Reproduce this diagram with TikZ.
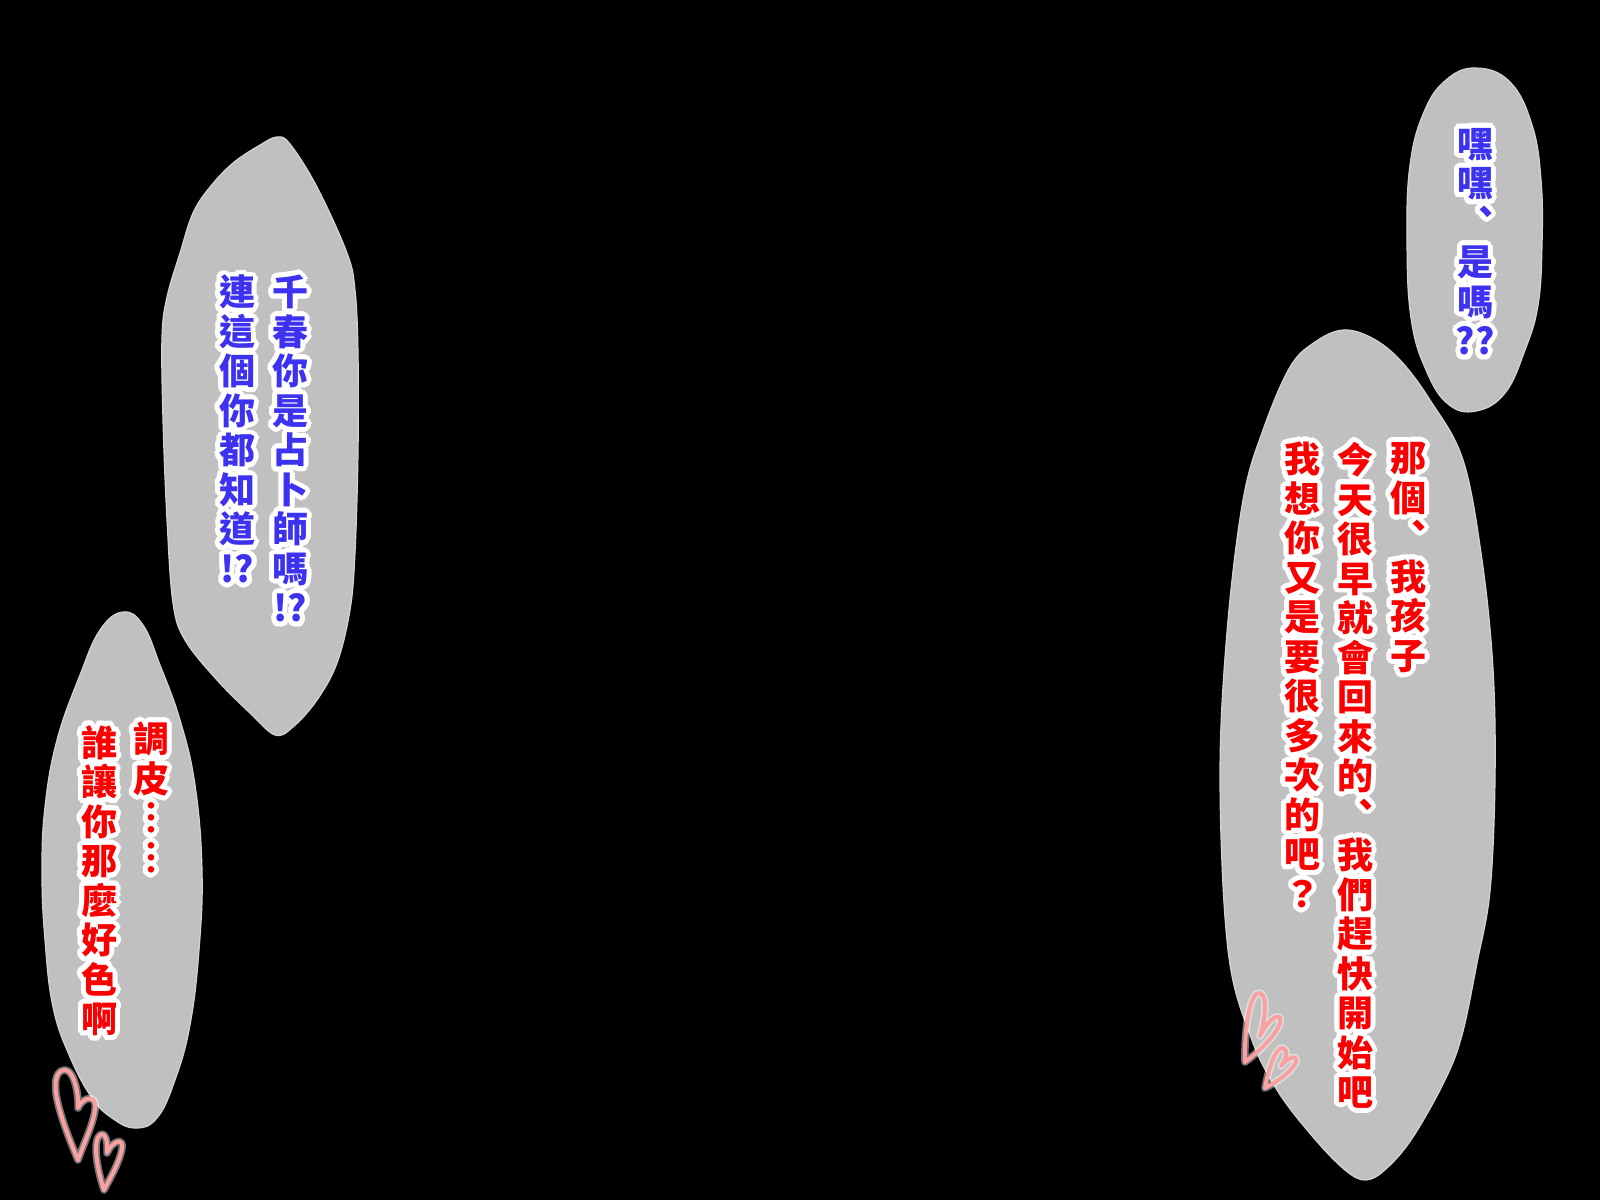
\documentclass[tikz,border=0pt]{standalone}
\usepackage{fontspec}
\newfontfamily\cjk{Noto Sans CJK TC}
\usetikzlibrary{calc}
\definecolor{bubblegray}{RGB}{192,192,192}
\definecolor{sayblue}{RGB}{60,50,240}
\definecolor{sayred}{RGB}{250,0,0}
\definecolor{heartpink}{RGB}{250,160,160}
\tikzset{
    bubble/.style = {fill=bubblegray, draw=bubblegray!70!white, line width=1.2},
    say/.style = {anchor=north, align=center, inner sep=0pt, font=\cjk\bfseries\fontsize{36}{39.5}\selectfont},
    sayb/.style = {say, text=sayblue},
    sayr/.style = {say, text=sayred},
    halo/.style = {say, text=white},
    heart/.style = {draw=heartpink, line width=4, line join=round, line cap=round},
    heartglow/.style = {draw=white, opacity=0.45, line width=7.5, line join=round, line cap=round},
}
% one column of vertical text with a white rim
\newcommand{\saycol}[4]{%
    \foreach \a in {0,20,...,340}
        \node[halo] at ($(#2)+(\a:5)$) {#4};
    \node[#3] (#1) at (#2) {#4};
}

\begin{document}
\begin{tikzpicture}[x=1pt, y=-1pt]
\fill[black] (0,0) rectangle (1600,1200);
\useasboundingbox (0,0) rectangle (1600,1200);
%
\draw[bubble] plot[smooth cycle, tension=0.6] coordinates {
    (277,137) (290,144) (317,187) (347,253) (355,290) (358,353) (358,453)
    (355,553) (350,610) (337,663) (317,700) (293,727) (275,735) (250,713)
    (217,680) (185,640) (173,603) (167,520) (163,420) (162,337) (167,297)
    (180,253) (193,213) (210,187) (233,163) (260,145)};
\draw[bubble] plot[smooth cycle, tension=0.7] coordinates {
    (123,612) (143,625) (160,665) (180,720) (195,785) (202,870) (199,950)
    (190,1025) (175,1080) (157,1118) (135,1128) (112,1118) (92,1098)
    (70,1057) (53,1007) (45,940) (42,873) (45,807) (57,740) (80,675) (100,630)};
\draw[bubble] plot[smooth cycle, tension=0.7] coordinates {
    (1476,68) (1510,82) (1532,125) (1541,180) (1542,245) (1538,305)
    (1525,350) (1505,393) (1476,411) (1448,404) (1426,370) (1411,318)
    (1407,240) (1410,165) (1424,112) (1446,80)};
\draw[bubble] plot[smooth cycle, tension=0.6] coordinates {
    (1343,330) (1372,338) (1400,360) (1430,400) (1463,460) (1482,560)
    (1493,669) (1495,780) (1490,891) (1477,963) (1462,1035) (1445,1080)
    (1413,1137) (1387,1168) (1366,1180) (1345,1170) (1313,1137) (1277,1090)
    (1250,1035) (1228,950) (1220,780) (1227,632) (1243,500) (1263,430)
    (1290,367) (1315,342)};
%
\saycol{qianchun}{290,275}{sayb}{千\\春\\你\\是\\占\\卜\\師\\嗎\\!?}
\saycol{lianzhe}{237,275}{sayb}{連\\這\\個\\你\\都\\知\\道\\!?}
\saycol{heihei}{1475,128}{sayb}{嘿\\嘿\\︑\\是\\嗎\\??}
\saycol{nage}{1408,442}{sayr}{那\\個\\︑\\我\\孩\\子}
\saycol{jintian}{1355,442}{sayr}{今\\天\\很\\早\\就\\會\\回\\來\\的\\︑\\我\\們\\趕\\快\\開\\始\\吧}
\saycol{woxiang}{1302,442}{sayr}{我\\想\\你\\又\\是\\要\\很\\多\\次\\的\\吧\\？}
\saycol{tiaopi}{151,722}{sayr}{調\\皮\\︙\\︙}
\saycol{shuirang}{99,725}{sayr}{誰\\讓\\你\\那\\麼\\好\\色\\啊}
%
\foreach \s in {heartglow, heart} {
    \draw[\s] (78,1160) .. controls (62,1122) and (47,1080) .. (61,1071)
        .. controls (72,1064) and (79,1090) .. (78,1108)
        .. controls (83,1096) and (98,1094) .. (95,1110)
        .. controls (93,1125) and (83,1145) .. (78,1160);
    \draw[\s] (104,1190) .. controls (96,1166) and (93,1140) .. (100,1135)
        .. controls (106,1131) and (108,1144) .. (107,1153)
        .. controls (112,1141) and (124,1137) .. (122,1148)
        .. controls (120,1162) and (109,1180) .. (104,1190);
    \draw[\s] (1245,1062) .. controls (1244,1030) and (1250,990) .. (1260,993)
        .. controls (1268,996) and (1265,1020) .. (1260,1036)
        .. controls (1268,1018) and (1283,1010) .. (1280,1023)
        .. controls (1276,1036) and (1256,1054) .. (1245,1062);
    \draw[\s] (1265,1088) .. controls (1268,1070) and (1276,1046) .. (1283,1048)
        .. controls (1289,1050) and (1286,1060) .. (1281,1066)
        .. controls (1288,1057) and (1298,1054) .. (1296,1062)
        .. controls (1292,1072) and (1275,1083) .. (1265,1088);
}
\end{tikzpicture}
\end{document}
